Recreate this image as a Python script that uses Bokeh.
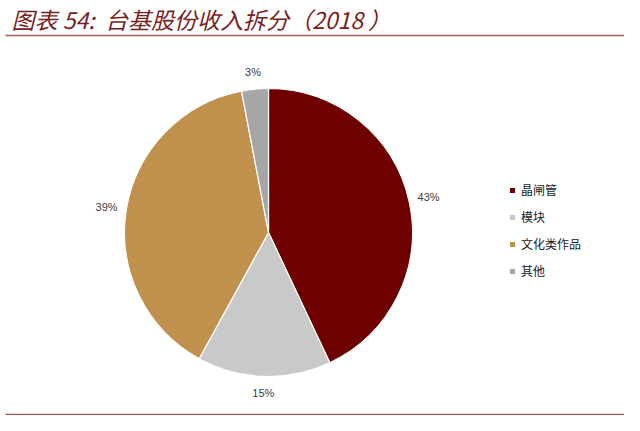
import math
from bokeh.plotting import figure
from bokeh.models import ColumnDataSource, Legend, LegendItem
from bokeh.core.properties import value
from bokeh.embed import file_html
from bokeh.resources import INLINE

# ---- data ----
categories = ["晶闸管", "模块", "文化类作品", "其他"]
shares = [43, 15, 39, 3]
pct_labels = ["43%", "15%", "39%", "3%"]
colors = ["#6E0000", "#C9C9C9", "#C0904D", "#A6A6A6"]
title_text = "图表 54:\u00a0\u00a0台基股份收入拆分（2018\u00a0）"

W, H = 624, 415
p = figure(width=W, height=H, x_range=(0, W), y_range=(0, H),
           x_axis_type=None, y_axis_type=None, output_backend="svg",
           toolbar_location=None, min_border=0, outline_line_color=None)
p.grid.visible = False
p.background_fill_color = "white"

cx, cy, r = 268, 183, 144
total = float(sum(shares))
starts, ends, lx, ly = [], [], [], []
cum = 0.0
for s in shares:
    a0 = math.pi / 2 - 2 * math.pi * cum / total
    cum += s
    a1 = math.pi / 2 - 2 * math.pi * cum / total
    starts.append(a0)
    ends.append(a1)
    mid = (a0 + a1) / 2
    lx.append(cx + 164 * math.cos(mid))
    ly.append(cy + 161 * math.sin(mid))

src = ColumnDataSource(dict(lx=lx, ly=ly, lab=pct_labels))
renderers = []
for i in range(len(shares)):
    rr = p.wedge(x=cx, y=cy, radius=r, start_angle=starts[i], end_angle=ends[i],
                 direction="clock", fill_color=colors[i], line_color="white",
                 line_width=1.2)
    renderers.append(rr)

p.text(x="lx", y="ly", text="lab", source=src, text_align="center",
       text_baseline="middle", text_font=value("Liberation Sans"),
       text_font_size="11px", text_color="#404040")

legend = Legend(items=[LegendItem(label=categories[i], renderers=[renderers[i]])
                       for i in range(len(categories))],
                location=(508, 136), glyph_width=8, glyph_height=8,
                label_height=12, label_standoff=5, spacing=10, padding=0,
                margin=0, border_line_color=None, background_fill_alpha=0,
                label_text_font="Noto Sans CJK SC", label_text_font_size="12px",
                label_text_color="#202020")
p.add_layout(legend)

# title and rules
p.text(x=[11], y=[397], text=[title_text], text_font=value("Noto Sans CJK SC"),
       text_font_style="italic", text_font_size="23px", text_color="#7A1E1E",
       text_baseline="middle", text_align="left")
p.segment(x0=[5], y0=[380], x1=[624], y1=[380], line_color="#A65858",
          line_width=1.3)
p.segment(x0=[5], y0=[1], x1=[624], y1=[1], line_color="#A65858",
          line_width=1.5)

open("out.html", "w").write(file_html(p, INLINE))
